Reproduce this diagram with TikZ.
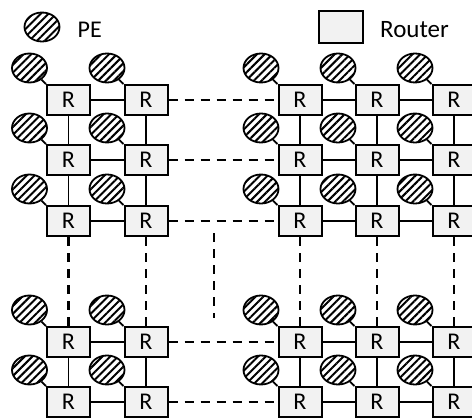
\documentclass[tikz,border=0pt]{standalone}
\usepackage{fontspec}
\setmainfont{Carlito}
\usetikzlibrary{positioning,shapes.geometric,patterns.meta}
\definecolor{RouterGray}{RGB}{242,242,242}
\tikzset{
	rt/.style={draw=black,fill=RouterGray,line width=2pt,minimum width=43pt,minimum height=30pt,
		inner sep=0pt,font=\fontsize{24}{24}\selectfont},
	pe/.style={ellipse,draw=black,line width=1.8pt,minimum width=35pt,minimum height=29pt,inner sep=0pt,
		pattern={Lines[angle=45,distance=5.5pt,line width=2pt]}},
	link/.style={draw=black,line width=1.8pt},
	dlink/.style={draw=black,line width=2.2pt,dash pattern=on 9pt off 7pt},
	keytext/.style={inner sep=0pt,font=\fontsize{24}{24}\selectfont},
}

\begin{document}
\begin{tikzpicture}[x=1pt,y=-1pt]
	\useasboundingbox (0,0) rectangle (472,420);
	\clip (0,0) rectangle (472,420);
	% legend
	\node[pe] (pe-key) at (42,27) {};
	\node[keytext,anchor=west,right=17pt of pe-key.east,yshift=-3pt] (pe-txt) {PE};
	\node[rt,minimum width=44pt,minimum height=32pt] (rt-key) at (341,27) {};
	\node[keytext,font=\fontsize{25}{25}\selectfont,anchor=west,right=16pt of rt-key.east,yshift=-3pt] (rt-txt) {Router};
	% routers with their PEs
	\foreach \c/\x in {1/68.5,2/146,3/300,4/377,5/454}
	\foreach \r/\y in {1/100,2/160,3/221,4/342,5/402}
	{
		\node[rt] (r-\r-\c) at (\x,\y) {R};
		\node[pe] (p-\r-\c) at (\x-39,\y-32) {};
		\draw[link] (p-\r-\c) -- (r-\r-\c.north west);
	}
	% links inside the chips
	\foreach \r in {1,...,5}
	\foreach \a/\b in {1/2,3/4,4/5}
	\draw[link] (r-\r-\a) -- (r-\r-\b);
	\foreach \c in {1,...,5}
	\foreach \a/\b in {1/2,2/3,4/5}
	\draw[link] (r-\a-\c) -- (r-\b-\c);
	% links between the chips
	\foreach \r in {1,...,5}
	\draw[dlink] (r-\r-2) -- (r-\r-3);
	\foreach \c in {1,...,5}
	\draw[dlink] (r-3-\c) -- (r-4-\c);
	\coordinate (gap-top) at (214,233);
	\coordinate (gap-bot) at (214,318);
	\draw[dlink] (gap-top) -- (gap-bot);
\end{tikzpicture}
\end{document}
